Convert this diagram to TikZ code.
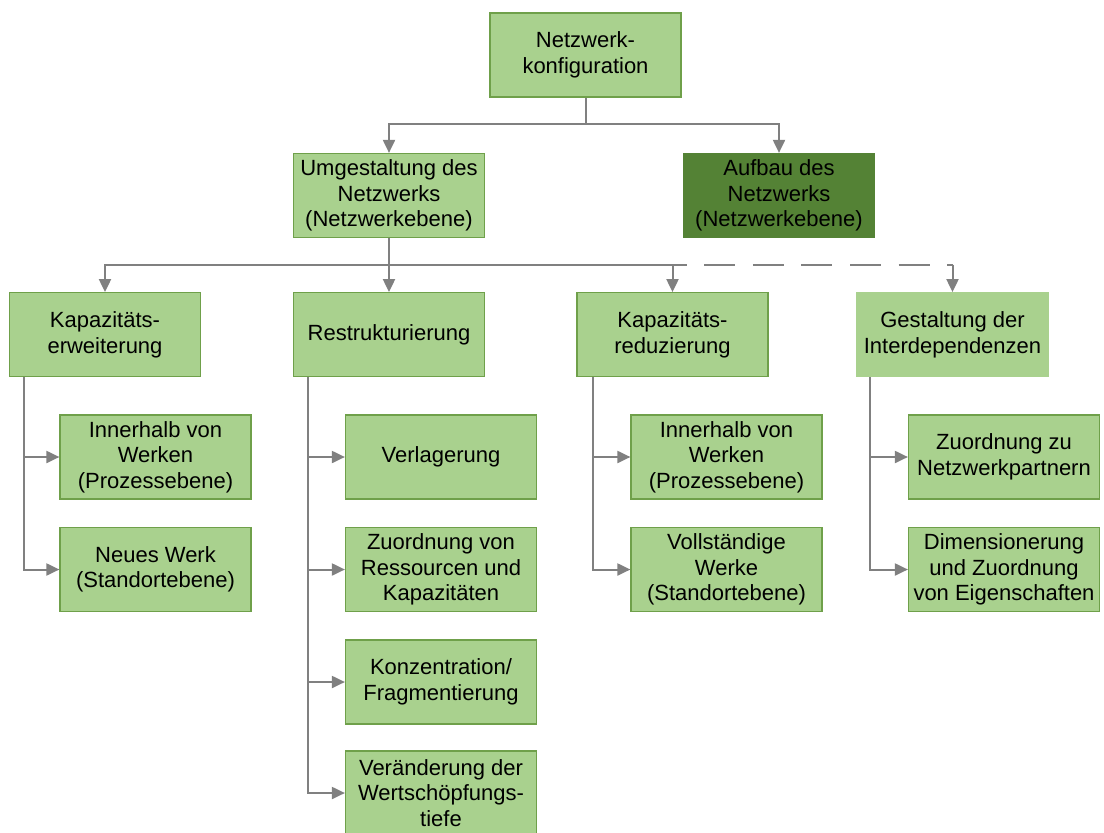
\documentclass[tikz,border=0pt]{standalone}
\usepackage{fontspec}
\setmainfont{Liberation Sans}
\usetikzlibrary{arrows.meta,calc}
\definecolor{lg}{HTML}{A9D18E}
\definecolor{lgb}{HTML}{6FA04A}
\definecolor{dg}{HTML}{548235}
\definecolor{ln}{HTML}{808080}
\begin{document}
\begin{tikzpicture}[x=1pt,y=-1pt,
 box/.style={rectangle, draw=lgb, line width=1.2pt, fill=lg, minimum width=191pt, minimum height=84pt, inner sep=0pt, align=center, font=\fontsize{22}{25.5}\selectfont},
 dbox/.style={box, fill=dg, draw=dg},
 nobox/.style={box, draw=lg},
 conn/.style={draw=ln, line width=2pt, -{Triangle[length=13pt,width=12pt]}},
 dconn/.style={draw=ln, line width=2pt, dash pattern=on 31pt off 17.6pt, dash phase=25pt},
]
\useasboundingbox (0,0) rectangle (1104,833);
\node[box] (top) at (585.5,55) {Netzwerk-\\konfiguration};
\node[box] (umg) at (389,195.5) {Umgestaltung des\\Netzwerks\\(Netzwerkebene)};
\node[dbox] (aufb) at (779,195.5) {Aufbau des\\Netzwerks\\(Netzwerkebene)};
\node[box] (kerw) at (105,334.7) {Kapazitäts-\\erweiterung};
\node[box] (restr) at (389,334.7) {Restrukturierung};
\node[box] (kred) at (672.5,334.7) {Kapazitäts-\\reduzierung};
\node[nobox] (gest) at (952.5,334.7) {Gestaltung der\\Interdependenzen};
\node[box] (kerw1) at (155.5,457) {Innerhalb von\\Werken\\(Prozessebene)};
\node[box] (kerw2) at (155.5,569.5) {Neues Werk\\(Standortebene)};
\node[box] (r1) at (441,457) {Verlagerung};
\node[box] (r2) at (441,569.5) {Zuordnung von\\Ressourcen und\\Kapazitäten};
\node[box] (r3) at (441,682) {Konzentration/\\Fragmentierung};
\node[box] (r4) at (441,793) {Veränderung der\\Wertschöpfungs-\\tiefe};
\node[box] (kred1) at (726.5,457) {Innerhalb von\\Werken\\(Prozessebene)};
\node[box] (kred2) at (726.5,569.5) {Vollständige\\Werke\\(Standortebene)};
\node[box] (g1) at (1004,457) {Zuordnung zu\\Netzwerkpartnern};
\node[box] (g2) at (1004,569.5) {Dimensionerung\\und Zuordnung\\von Eigenschaften};
% top level
\coordinate (ht) at ($(top.south)+(0,26)$);
\draw[conn] (top.south) -- (ht) -| (umg.north);
\draw[conn] (ht) -| (aufb.north);
% second level
\coordinate (hb) at ($(umg.south)+(0,26.5)$);
\coordinate (hg) at (hb -| gest.north);
\draw[dconn] (hb) -- (hg);
\draw[conn] (umg.south) -- (hb) -| (kerw.north);
\draw[conn] (hb) -| (kred.north);
\draw[conn] (hb) -- (restr.north);
\draw[conn] (hg) -- (gest.north);
% children
\coordinate (ke) at ($(kerw.south west)+(15,0)$);
\draw[conn] (ke) |- (kerw1.west);
\draw[conn] (ke) |- (kerw2.west);
\coordinate (re) at ($(restr.south west)+(15,0)$);
\draw[conn] (re) |- (r1.west);
\draw[conn] (re) |- (r2.west);
\draw[conn] (re) |- (r3.west);
\draw[conn] (re) |- (r4.west);
\coordinate (kr) at ($(kred.south west)+(17,0)$);
\draw[conn] (kr) |- (kred1.west);
\draw[conn] (kr) |- (kred2.west);
\coordinate (ge) at ($(gest.south west)+(14,0)$);
\draw[conn] (ge) |- (g1.west);
\draw[conn] (ge) |- (g2.west);
\end{tikzpicture}
\end{document}
